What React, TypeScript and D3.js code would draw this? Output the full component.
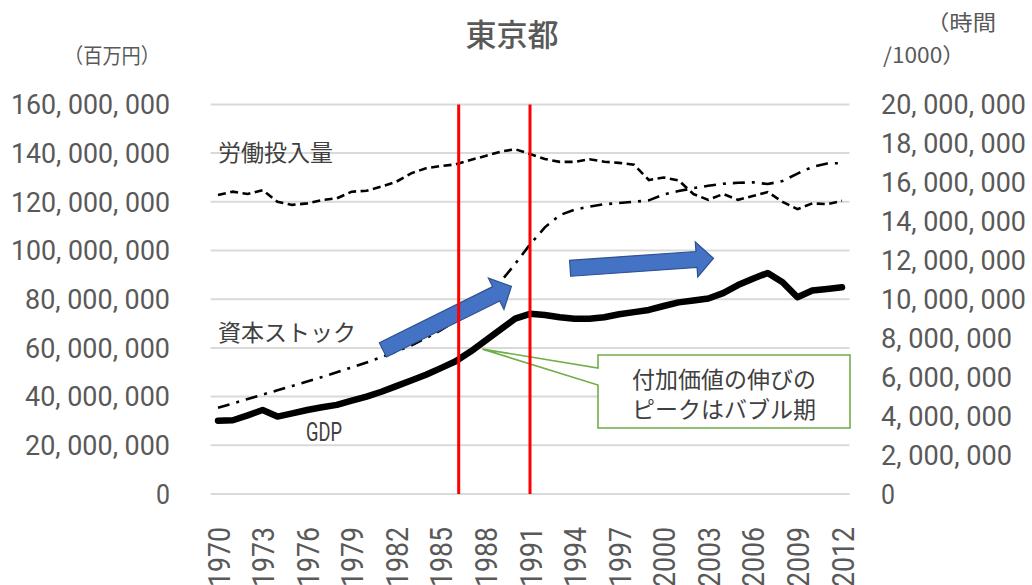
import React from 'react';
import * as d3 from 'd3';

// categories
const years: number[] = d3.range(1970, 2013);
// GDP (百万円, in millions) – left axis
const gdp = [30.1, 30.3, 32.3, 34.5, 31.8, 33.1, 34.5, 35.6, 36.6, 38.3,
  40.0, 42.0, 44.3, 46.6, 49.0, 51.7, 54.5, 58.5, 63.0, 67.5,
  72.0, 74.0, 73.5, 72.6, 72.0, 72.0, 72.6, 73.8, 74.7, 75.6,
  77.2, 78.7, 79.5, 80.3, 82.5, 85.8, 88.4, 90.8, 87.0, 80.8,
  83.6, 84.2, 84.9];
// 資本ストック (百万円, in millions) – left axis
const capital = [35.4, 37.2, 39.0, 40.8, 42.6, 44.4, 46.2, 48.0, 50.0, 52.0,
  54.0, 56.2, 58.5, 61.0, 64.0, 67.3, 71.0, 75.5, 81.0, 87.0,
  94.5, 102.5, 109.5, 114.5, 116.8, 118.0, 119.0, 119.5, 120.0, 120.6,
  123.0, 124.4, 125.6, 126.6, 127.4, 127.8, 128.0, 127.3, 128.5, 131.6,
  134.3, 135.7, 135.9];
// 労働投入量 (時間/1000, in millions) – right axis
const labor = [15.35, 15.52, 15.4, 15.6, 15.0, 14.84, 14.92, 15.09, 15.18, 15.52,
  15.57, 15.78, 16.03, 16.46, 16.72, 16.84, 16.92, 17.15, 17.35, 17.57,
  17.7, 17.45, 17.2, 17.05, 17.05, 17.18, 17.06, 17.0, 16.9, 16.12,
  16.25, 16.1, 15.4, 15.1, 15.4, 15.1, 15.3, 15.5, 15.0, 14.62,
  14.92, 14.88, 15.05];

const leftTicks = [0, 20, 40, 60, 80, 100, 120, 140, 160];
const rightTicks = [0, 2, 4, 6, 8, 10, 12, 14, 16, 18, 20];
const xTickYears = years.filter((y) => (y - 1970) % 3 === 0);
const bubbleMarks = [1986.2, 1991];

// annotation arrows: [year, value(left axis)] tail -> tip
const arrows = [
  { from: [1981.1, 59.2], to: [1989.75, 85.3] },
  { from: [1993.7, 92.7], to: [2003.35, 96.8] },
];

const title = '東京都';
const leftUnit = '（百万円）';
const rightUnit1 = '（時間';
const rightUnit2 = '/1000）';
const calloutLines = ['付加価値の伸びの', 'ピークはバブル期'];

const W = 1032;
const H = 585;
const JP = '"Noto Sans CJK JP", sans-serif';
const NUM = 'Roboto, sans-serif';

function fmt(v: number) {
  return d3.format(',')(v * 1e6).replace(/,/g, ', ');
}
function numLen(s: string) {
  const digits = (s.match(/\d/g) || []).length;
  const commas = (s.match(/,/g) || []).length;
  return digits * 14 + commas * 16.5;
}

export default function App() {
  const x = d3.scaleLinear().domain([1970, 2012]).range([218, 842]);
  const yL = d3.scaleLinear().domain([0, 160]).range([494, 104.4]);
  const yR = d3.scaleLinear().domain([0, 20]).range([494, 104.4]);
  const x0 = x(1969.5);
  const x1 = x(2012.5);

  const lineL = d3.line<number>().x((_, i) => x(years[i])).y((d) => yL(d));
  const lineR = d3.line<number>().x((_, i) => x(years[i])).y((d) => yR(d));

  const arrowPath = (a: { from: number[]; to: number[] }) => {
    const tx = x(a.from[0]), ty = yL(a.from[1]);
    const hx = x(a.to[0]), hy = yL(a.to[1]);
    const dx = hx - tx, dy = hy - ty;
    const len = Math.hypot(dx, dy);
    const ux = dx / len, uy = dy / len;
    const nx = -uy, ny = ux;
    const sw = 8, hw = 17.5, hl = 17;
    const bx = hx - ux * hl, by = hy - uy * hl;
    const pts = [
      [tx + nx * sw, ty + ny * sw],
      [bx + nx * sw, by + ny * sw],
      [bx + nx * hw, by + ny * hw],
      [hx, hy],
      [bx - nx * hw, by - ny * hw],
      [bx - nx * sw, by - ny * sw],
      [tx - nx * sw, ty - ny * sw],
    ];
    return 'M' + pts.map((p) => p.join(',')).join('L') + 'Z';
  };

  // callout geometry
  const boxL = 598, boxT = 355, boxR = 850, boxB = 428;
  const tipX = x(1987.8), tipY = yL(59.5);
  const calloutPath = `M${boxL},${boxT}L${boxR},${boxT}L${boxR},${boxB}L${boxL},${boxB}L${boxL},385L${tipX},${tipY}L${boxL},368Z`;

  return (
    <svg width={W} height={H} style={{ position: 'absolute', left: 0, top: 0, background: '#fff' }}>
      <rect width={W} height={H} fill="#fff" />
      {/* gridlines */}
      {leftTicks.map((t) => (
        <line key={'g' + t} x1={x0} x2={x1} y1={yL(t)} y2={yL(t)} stroke="#D9D9D9" strokeWidth={2} />
      ))}
      {/* left ticks */}
      {leftTicks.map((t) => (
        <text key={'l' + t} x={170} y={yL(t)} dy="0.36em" textAnchor="end" fontFamily={NUM} fontSize={27} fill="#595959"
          textLength={numLen(fmt(t))} lengthAdjust="spacingAndGlyphs">
          {fmt(t)}
        </text>
      ))}
      {/* right ticks */}
      {rightTicks.map((t) => (
        <text key={'r' + t} x={881} y={yR(t)} dy="0.36em" textAnchor="start" fontFamily={NUM} fontSize={27} fill="#595959"
          textLength={numLen(fmt(t))} lengthAdjust="spacingAndGlyphs">
          {fmt(t)}
        </text>
      ))}
      {/* x ticks */}
      {xTickYears.map((yr) => (
        <text key={'x' + yr} transform={`translate(${x(yr)},527) rotate(-90)`} dy="0.36em" textAnchor="end" fontFamily={NUM} fontSize={32} fill="#595959"
          textLength={60} lengthAdjust="spacingAndGlyphs">
          {yr}
        </text>
      ))}
      {/* titles */}
      <text x={512} y={35} dy="0.36em" textAnchor="middle" fontFamily={JP} fontSize={31} fontWeight={500} fill="#595959">{title}</text>
      <text x={64} y={55} dy="0.36em" textAnchor="start" fontFamily={JP} fontSize={21} fill="#595959" textLength={96} lengthAdjust="spacingAndGlyphs">{leftUnit}</text>
      <text x={926} y={22} dy="0.36em" textAnchor="start" fontFamily={JP} fontSize={21} fill="#595959" textLength={70} lengthAdjust="spacingAndGlyphs">{rightUnit1}</text>
      <text x={883} y={55} dy="0.36em" textAnchor="start" fontFamily={JP} fontSize={21} fill="#595959" textLength={82} lengthAdjust="spacingAndGlyphs">{rightUnit2}</text>

      {/* series */}
      <path d={lineR(labor) || ''} fill="none" stroke="#000" strokeWidth={2.6} strokeDasharray="8 4.5" />
      <path d={lineL(capital) || ''} fill="none" stroke="#000" strokeWidth={2.6} strokeDasharray="12 7 3 7" />
      <path d={lineL(gdp) || ''} fill="none" stroke="#000" strokeWidth={6.5} strokeLinejoin="round" strokeLinecap="round" />

      {/* series labels */}
      <text x={218} y={153} dy="0.36em" fontFamily={JP} fontSize={23} fill="#404040">労働投入量</text>
      <text x={218} y={333} dy="0.36em" fontFamily={JP} fontSize={23} fill="#404040">資本ストック</text>
      <text x={306} y={432} dy="0.36em" fontFamily={NUM} fontSize={26} fill="#404040" textLength={36} lengthAdjust="spacingAndGlyphs">GDP</text>

      {/* callout */}
      <path d={calloutPath} fill="#fff" stroke="#70AD47" strokeWidth={1.6} />
      {calloutLines.map((s, i) => (
        <text key={s} x={(boxL + boxR) / 2} y={380 + i * 30} dy="0.36em" textAnchor="middle" fontFamily={JP} fontSize={23} fill="#404040">{s}</text>
      ))}

      {/* arrows */}
      {arrows.map((a, i) => (
        <path key={'a' + i} d={arrowPath(a)} fill="#4472C4" stroke="#2F528F" strokeWidth={1.2} />
      ))}

      {/* bubble period lines */}
      {bubbleMarks.map((b) => (
        <line key={'b' + b} x1={x(b)} x2={x(b)} y1={yL(160)} y2={yL(0)} stroke="#FF0000" strokeWidth={3} />
      ))}
    </svg>
  );
}
